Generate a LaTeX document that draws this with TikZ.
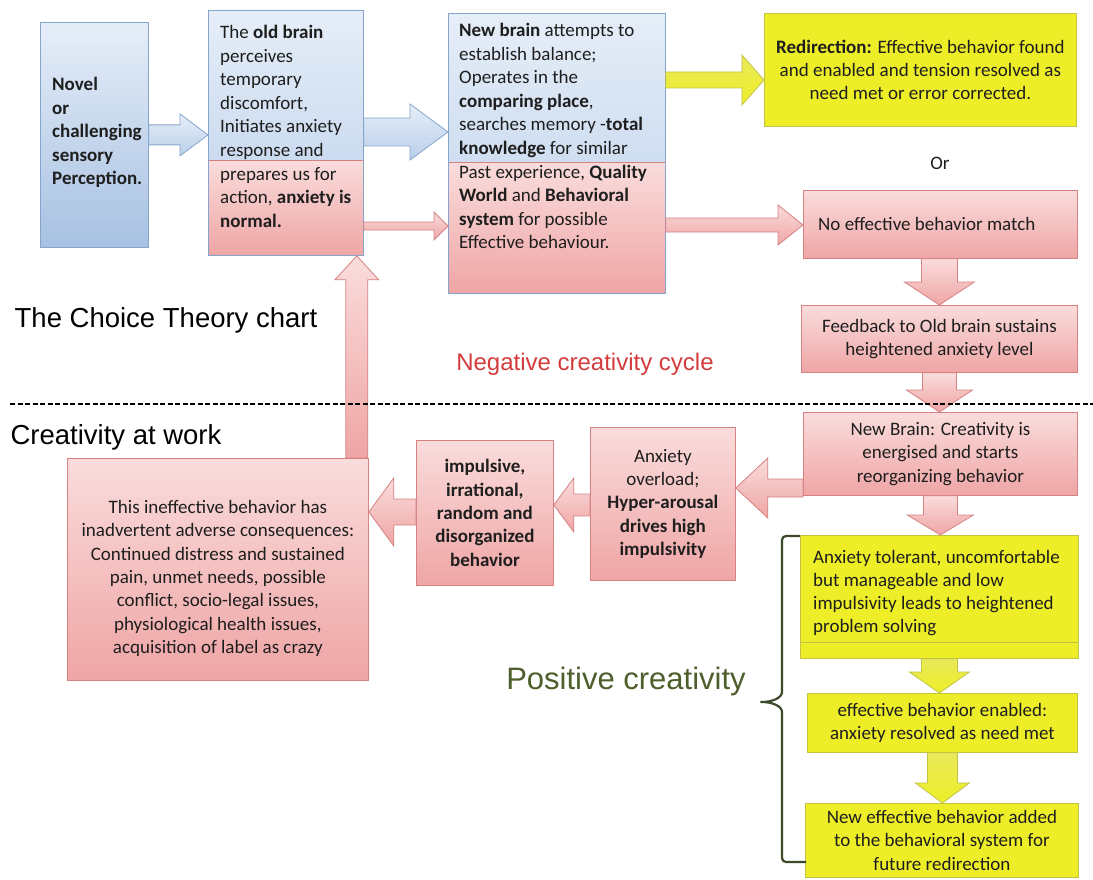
\documentclass[tikz,border=0pt]{standalone}
\usepackage{fontspec}
\setmainfont{Carlito}
\newfontfamily\arialf{Liberation Sans}
\usetikzlibrary{calc}
\definecolor{bluetop}{HTML}{E6EEF8}
\definecolor{bluebot}{HTML}{A7C1E2}
\definecolor{bluemid}{HTML}{BACFEA}
\definecolor{blueline}{HTML}{86A5CC}
\definecolor{pinktop}{HTML}{FADCDC}
\definecolor{pinkbot}{HTML}{EFA5A5}
\definecolor{pinkline}{HTML}{D68282}
\definecolor{yel}{HTML}{EEEE28}
\definecolor{yelline}{HTML}{C2C246}
\definecolor{yeltop}{HTML}{E9E95A}
\definecolor{negred}{HTML}{D33C3C}
\definecolor{posgreen}{HTML}{4E5F2C}
\definecolor{bracec}{HTML}{3C4A2A}
\definecolor{textc}{HTML}{1E1E1E}
\newcommand{\blockarrow}[6]{%
  \coordinate (ba-A) at (#2);
  \coordinate (ba-B) at (#3);
  \coordinate (ba-H) at ($(ba-B)!#6!(ba-A)$);
  \path[#1] ($(ba-A)!#4!90:(ba-B)$) -- ($(ba-H)!#4!-90:(ba-A)$) -- ($(ba-H)!#5!-90:(ba-A)$) -- (ba-B) -- ($(ba-H)!#5!90:(ba-A)$) -- ($(ba-H)!#4!90:(ba-A)$) -- ($(ba-A)!#4!-90:(ba-B)$) -- cycle;
}
\tikzset{
  box/.style={draw, anchor=north west, inner sep=0pt, line width=0.8pt, text=textc, align=center, font=\fontsize{19}{23.3}\selectfont},
  bluebox/.style={box, draw=blueline, top color=bluetop, bottom color=bluebot},
  pinkbox/.style={box, draw=pinkline, top color=pinktop, bottom color=pinkbot},
  yelbox/.style={box, draw=yelline, fill=yel},
  txt/.style={inner sep=0pt, anchor=north west, align=left, text=textc, font=\fontsize{19}{23.6}\selectfont},
  bluearrow/.style={draw=blueline, line width=0.8pt, top color=bluetop, bottom color=bluemid, line join=miter},
  pinkarrow/.style={draw=pinkline, line width=0.8pt, top color=pinktop, bottom color=pinkbot, line join=miter},
  yelarrow/.style={draw=yelline, line width=0.8pt, top color=yeltop, bottom color=yel, line join=miter},
  title/.style={inner sep=0pt, font=\arialf\fontsize{27.5}{30}\selectfont}
}
\begin{document}
\begin{tikzpicture}[x=1pt,y=-1pt]
\useasboundingbox (0,0) rectangle (1093,880);
% boxes
\node[bluebox, minimum width=108pt, minimum height=225pt] (novel) at (40,22) {};
\node[box, draw=blueline, minimum width=155pt, minimum height=245pt, path picture={
  \shade[top color=bluetop, bottom color=bluemid] (path picture bounding box.north west) rectangle ([yshift=-150pt]path picture bounding box.north east);
  \shade[top color=pinktop, bottom color=pinkbot] ([yshift=-150pt]path picture bounding box.north west) rectangle (path picture bounding box.south east);
  \draw[pinkline, line width=0.8pt] ([yshift=-150pt]path picture bounding box.north west) -- ([yshift=-150pt]path picture bounding box.north east);
}] (old) at (208,10) {};
\node[box, draw=blueline, minimum width=217pt, minimum height=280pt, path picture={
  \shade[top color=bluetop, bottom color=bluemid] (path picture bounding box.north west) rectangle ([yshift=-149pt]path picture bounding box.north east);
  \shade[top color=pinktop, bottom color=pinkbot] ([yshift=-149pt]path picture bounding box.north west) rectangle (path picture bounding box.south east);
  \draw[pinkline, line width=0.8pt] ([yshift=-149pt]path picture bounding box.north west) -- ([yshift=-149pt]path picture bounding box.north east);
}] (newb) at (448,13) {};
\node[yelbox, minimum width=312pt, minimum height=113pt] (redir) at (764,13) {\textbf{Redirection:} Effective behavior found\\and enabled and tension resolved as\\need met or error corrected.};
\node[inner sep=0pt, text=textc, font=\fontsize{19}{22}\selectfont] (or) at (940,163) {Or};
\node[pinkbox, minimum width=274pt, minimum height=68pt] (nomatch) at (803,190) {};
\node[txt, anchor=west] (nomatchT) at ($(nomatch.west)+(15,0)$) {No effective behavior match};
\node[pinkbox, minimum width=276pt, minimum height=67pt] (feed) at (801,305) {Feedback to Old brain sustains\\heightened anxiety level};
\node[pinkbox, minimum width=274pt, minimum height=83pt] (creat) at (803,412) {New Brain: Creativity is\\energised and starts\\reorganizing behavior};
\node[pinkbox, minimum width=145pt, minimum height=153pt] (anx) at (590,427) {Anxiety\\overload;\\\textbf{Hyper-arousal}\\\textbf{drives high}\\\textbf{impulsivity}};
\node[pinkbox, minimum width=137pt, minimum height=145pt] (imp) at (416,440) {\textbf{impulsive,}\\\textbf{irrational,}\\\textbf{random and}\\\textbf{disorganized}\\\textbf{behavior}};
\node[pinkbox, minimum width=301pt, minimum height=222pt] (ineff) at (67,458) {};
\node[txt, anchor=center, align=center, font=\fontsize{19}{23.4}\selectfont] (ineffT) at ($(ineff.center)+(0,9)$) {This ineffective behavior has\\inadvertent adverse consequences:\\Continued distress and sustained\\pain, unmet needs, possible\\conflict, socio-legal issues,\\physiological health issues,\\acquisition of label as crazy};
\node[yelbox, minimum width=278pt, minimum height=28pt] (y1b) at (800,630) {};
\node[yelbox, minimum width=278pt, minimum height=107pt] (y1) at (800,535) {};
\node[yelbox, minimum width=270pt, minimum height=59pt] (y2) at (807,693) {effective behavior enabled:\\anxiety resolved as need met};
\node[yelbox, minimum width=273pt, minimum height=74pt] (y3) at (805,803) {New effective behavior added\\to the behavioral system for\\future redirection};
% left-aligned texts
\node[txt, font=\fontsize{19}{23.5}\selectfont] (novelT) at ($(novel.north west)+(12,55)$) {\textbf{Novel}\\\textbf{or}\\\textbf{challenging}\\\textbf{sensory}\\\textbf{Perception.}};
\node[txt] (oldT) at ($(old.north west)+(12,15)$) {The \textbf{old brain}\\perceives\\temporary\\discomfort,\\Initiates anxiety\\response and\\prepares us for\\action, \textbf{anxiety is}\\\textbf{normal.}};
\node[txt] (newbT) at ($(newb.north west)+(11,10)$) {\textbf{New brain} attempts to\\establish balance;\\Operates in the\\\textbf{comparing place},\\searches memory -\textbf{total}\\\textbf{knowledge} for similar\\Past experience, \textbf{Quality}\\\textbf{World} and \textbf{Behavioral}\\\textbf{system} for possible\\Effective behaviour.};
\node[txt, font=\fontsize{19}{23}\selectfont] (y1T) at ($(y1.north west)+(13,15)$) {Anxiety tolerant, uncomfortable\\but manageable and low\\impulsivity leads to heightened\\problem solving};
% titles
\node[title] (t1) at (166,320) {The Choice Theory chart};
\node[title] (t2) at (116,437) {Creativity at work};
\node[title, text=negred, font=\arialf\fontsize{24}{28}\selectfont] (t3) at (585,364) {Negative creativity cycle};
\node[title, text=posgreen, font=\arialf\fontsize{31}{34}\selectfont] (t4) at (626,681) {Positive creativity};
% arrows
\blockarrow{bluearrow}{novel.east}{old.west |- novel.east}{10pt}{21pt}{28pt}
\coordinate (a2s) at ($(old.north east)+(0,122)$);
\blockarrow{bluearrow}{a2s}{newb.west |- a2s}{14pt}{28pt}{38pt}
\coordinate (a3s) at ($(old.north east)+(0,216)$);
\blockarrow{pinkarrow}{a3s}{newb.west |- a3s}{4pt}{14pt}{14pt}
\coordinate (a4s) at ($(newb.north east)+(0,67)$);
\blockarrow{yelarrow}{a4s}{redir.west |- a4s}{8pt}{25pt}{22pt}
\coordinate (a5s) at ($(newb.north east)+(0,212)$);
\blockarrow{pinkarrow}{a5s}{nomatch.west |- a5s}{7pt}{20pt}{25pt}
\blockarrow{pinkarrow}{feed.north |- nomatch.south}{feed.north}{18pt}{35pt}{23pt}
\blockarrow{pinkarrow}{feed.south}{creat.north -| feed.south}{17pt}{33pt}{22pt}
\blockarrow{pinkarrow}{creat.south}{y1.north -| creat.south}{17pt}{33pt}{20pt}
\blockarrow{yelarrow}{y1b.south}{y2.north -| y1b.south}{18pt}{30pt}{21pt}
\blockarrow{yelarrow}{y2.south}{y3.north -| y2.south}{15pt}{27pt}{20pt}
\coordinate (a11s) at ($(creat.north west)+(0,76)$);
\blockarrow{pinkarrow}{a11s}{anx.east |- a11s}{9pt}{30pt}{32pt}
\coordinate (a12s) at ($(anx.north west)+(0,78)$);
\blockarrow{pinkarrow}{a12s}{imp.east |- a12s}{11pt}{27pt}{20pt}
\coordinate (a13s) at ($(imp.north west)+(0,72)$);
\blockarrow{pinkarrow}{a13s}{ineff.east |- a13s}{13pt}{34pt}{25pt}
\coordinate (a14s) at ($(ineff.north east)+(-12,0)$);
\blockarrow{pinkarrow}{a14s}{old.south -| a14s}{11pt}{22pt}{24pt}
% dashed separator
\draw[line width=1.8pt, dash pattern=on 5pt off 2.5pt] (10,404) -- (1093,404);
% brace
\draw[bracec, line width=2.2pt, rounded corners=4pt] (800,536) -- (782,536) -- (782,688) .. controls (782,698) and (772,702) .. (758,702) .. controls (772,702) and (782,706) .. (782,716) -- (782,862) -- (806,862);
\end{tikzpicture}
\end{document}
